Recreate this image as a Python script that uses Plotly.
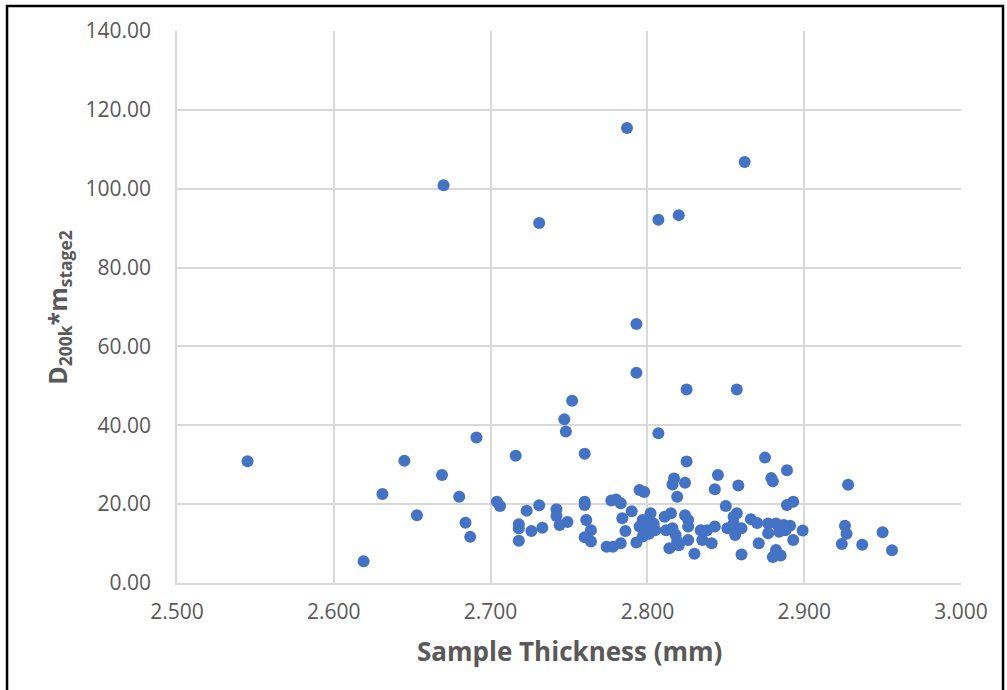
import plotly.graph_objects as go

# Sample thickness (mm) and D200k * m_stage2 for each specimen
thickness = [
    2.545, 2.619, 2.631, 2.645, 2.653, 2.669, 2.670, 2.680, 2.684, 2.687,
    2.691, 2.704, 2.706, 2.716, 2.718, 2.718, 2.718, 2.723, 2.726, 2.731,
    2.731, 2.733, 2.742, 2.742, 2.744, 2.749, 2.747, 2.748, 2.752, 2.760,
    2.760, 2.760, 2.761, 2.764, 2.760, 2.764, 2.774, 2.778, 2.783, 2.777,
    2.780, 2.783, 2.784, 2.786, 2.787, 2.790, 2.793, 2.793, 2.793, 2.795,
    2.798, 2.797, 2.802, 2.800, 2.795, 2.799, 2.803, 2.805, 2.797, 2.807,
    2.807, 2.811, 2.815, 2.812, 2.816, 2.818, 2.819, 2.814, 2.820, 2.816,
    2.817, 2.820, 2.819, 2.824, 2.824, 2.826, 2.826, 2.826, 2.825, 2.825,
    2.830, 2.834, 2.838, 2.835, 2.841, 2.843, 2.843, 2.845, 2.850, 2.851,
    2.855, 2.856, 2.855, 2.857, 2.858, 2.857, 2.860, 2.856, 2.860, 2.862,
    2.866, 2.870, 2.871, 2.875, 2.877, 2.882, 2.887, 2.891, 2.877, 2.884,
    2.888, 2.879, 2.880, 2.889, 2.889, 2.893, 2.893, 2.899, 2.882, 2.880,
    2.885, 2.924, 2.926, 2.927, 2.928, 2.937, 2.950, 2.956, 2.804, 2.801,
]
d_m_stage2 = [
    30.9, 5.5, 22.6, 31.0, 17.2, 27.4, 100.9, 21.9, 15.3, 11.7,
    36.9, 20.6, 19.5, 32.3, 14.9, 13.9, 10.7, 18.3, 13.2, 19.7,
    91.3, 14.0, 18.7, 17.0, 14.7, 15.5, 41.5, 38.4, 46.2, 32.8,
    20.6, 19.8, 16.0, 13.4, 11.6, 10.5, 9.2, 9.2, 10.1, 20.9,
    21.2, 20.2, 16.4, 13.2, 115.4, 18.2, 10.3, 65.7, 53.3, 23.6,
    23.1, 16.0, 17.7, 15.5, 14.3, 13.4, 14.3, 13.4, 11.8, 38.0,
    92.1, 16.8, 17.7, 13.4, 13.9, 12.2, 10.5, 8.8, 9.6, 25.0,
    26.5, 93.3, 21.9, 25.4, 17.2, 16.0, 14.3, 10.9, 49.1, 30.8,
    7.4, 13.4, 13.4, 10.9, 10.1, 14.3, 23.8, 27.4, 19.5, 13.9,
    15.1, 13.4, 16.8, 17.7, 24.7, 49.1, 13.9, 12.2, 7.2, 106.8,
    16.2, 15.2, 10.1, 31.8, 15.1, 15.1, 14.7, 14.5, 12.6, 13.0,
    13.4, 26.6, 25.8, 28.6, 19.8, 20.6, 10.9, 13.3, 8.4, 6.6,
    7.0, 9.9, 14.5, 12.5, 24.9, 9.7, 12.9, 8.3, 15.0, 12.5,
]

x_ticks = [2.5, 2.6, 2.7, 2.8, 2.9, 3.0]
x_tick_text = ["2.500", "2.600", "2.700", "2.800", "2.900", "3.000"]
y_ticks = [0, 20, 40, 60, 80, 100, 120, 140]
y_tick_text = ["0.00", "20.00", "40.00", "60.00", "80.00", "100.00", "120.00", "140.00"]

GRID = "#D9D9D9"
TEXT = "#595959"
FONT = "Open Sans, Noto Sans, sans-serif"

fig = go.Figure(
    go.Scatter(
        x=thickness,
        y=d_m_stage2,
        mode="markers",
        marker=dict(color="#4472C4", size=12, line=dict(width=0)),
        showlegend=False,
    )
)

fig.update_layout(
    width=1007,
    height=690,
    margin=dict(l=177, r=46, t=31, b=107),
    paper_bgcolor="white",
    plot_bgcolor="white",
    font=dict(family=FONT, color=TEXT, size=21),
    xaxis=dict(
        range=[2.5, 3.0],
        tickvals=x_ticks,
        ticktext=x_tick_text,
        showgrid=True,
        gridcolor=GRID,
        gridwidth=1.5,
        showline=True,
        linecolor=GRID,
        linewidth=1.5,
        zeroline=False,
        ticks="",
        ticklabelstandoff=9,
        tickfont=dict(size=21, color=TEXT, family=FONT),
    ),
    yaxis=dict(
        range=[0, 140],
        tickvals=y_ticks,
        ticktext=y_tick_text,
        showgrid=True,
        gridcolor=GRID,
        gridwidth=1.5,
        showline=True,
        linecolor=GRID,
        linewidth=1.5,
        zeroline=False,
        ticks="",
        ticklabelstandoff=20,
        tickfont=dict(size=21, color=TEXT, family=FONT),
    ),
    annotations=[
        dict(
            text="<b>Sample Thickness (mm)</b>",
            xref="paper", yref="paper",
            x=0.501, y=-0.123,
            xanchor="center", yanchor="middle",
            showarrow=False,
            font=dict(size=26, color=TEXT, family=FONT),
        ),
        dict(
            text="<b>D<sub>200k</sub>*m<sub>stage2</sub></b>",
            xref="paper", yref="paper",
            x=-0.152, y=0.5,
            xanchor="center", yanchor="middle",
            textangle=-90,
            showarrow=False,
            font=dict(size=25, color=TEXT, family=FONT),
        ),
    ],
    shapes=[
        dict(
            type="rect",
            xref="paper", yref="paper",
            x0=-0.2168, x1=1.0536, y0=-0.23, y1=1.0453,
            line=dict(color="black", width=2.5),
            fillcolor="rgba(0,0,0,0)",
            layer="above",
        )
    ],
)

fig.write_html("out.html")
